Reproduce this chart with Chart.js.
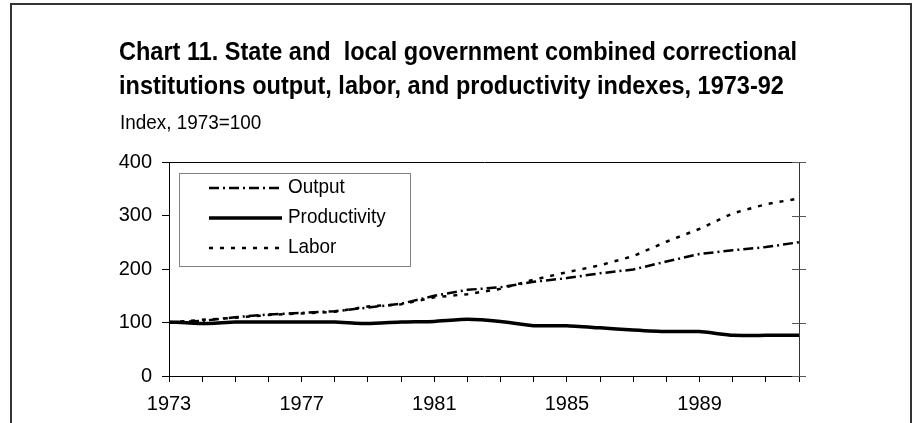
<!DOCTYPE html>
<html>
<head>
<meta charset="utf-8">
<script src="https://cdn.jsdelivr.net/npm/chart.js@4.4.0/dist/chart.umd.min.js"></script>
<style>
  html, body { margin: 0; padding: 0; background: #fff; }
  canvas { display: block; }
</style>
</head>
<body>
<canvas id="c" width="912" height="423"></canvas>
<script>
// ---- data ----
const years = ['1973','1974','1975','1976','1977','1978','1979','1980','1981','1982',
               '1983','1984','1985','1986','1987','1988','1989','1990','1991','1992'];
const outputIdx       = [100,103,110,115,118,121,128,135,150,161,166,176,183,192,199,214,228,235,241,250];
const productivityIdx = [101, 98,101,101,101,101, 98,101,102,106,102, 94, 94, 90, 86, 83, 83, 76, 76, 76];
const laborIdx        = [100,105,109,114,117,120,130,134,147,153,163,180,194,207,224,251,275,304,321,332];
const yTickValues = [0,100,200,300,400];
const xLabelYears = ['1973','1977','1981','1985','1989'];
const titleLines = ['Chart 11. State and  local government combined correctional',
                    'institutions output, labor, and productivity indexes, 1973-92'];
const subtitle = 'Index, 1973=100';

const FONT = "'Liberation Sans', Arial, sans-serif";

function condensedText(ctx, text, x, y, sx) {
  ctx.save();
  ctx.translate(x, y);
  ctx.scale(sx, 1);
  ctx.fillText(text, 0, 0);
  ctx.restore();
}

const decor = {
  id: 'decor',
  afterDraw(chart) {
    const ctx = chart.ctx;
    const ca = chart.chartArea;
    const ys = chart.scales.y;
    ctx.save();
    // outer frame
    ctx.strokeStyle = '#333';
    ctx.lineWidth = 2;
    ctx.strokeRect(11, 4, 900, 440);

    // title (bold, condensed)
    ctx.fillStyle = '#000';
    ctx.textBaseline = 'alphabetic';
    ctx.textAlign = 'left';
    ctx.font = "bold 25px " + FONT;
    const w = ctx.measureText(titleLines[0]).width;
    const sx = 678 / w;
    const baselines = [60, 94];
    titleLines.forEach((t, i) => condensedText(ctx, t, 119, baselines[i], sx));
    ctx.font = "21px " + FONT;
    condensedText(ctx, subtitle, 120, 129, 0.9);

    // right axis line with crossing ticks
    ctx.strokeStyle = '#333';
    ctx.lineWidth = 1;
    ctx.beginPath();
    ctx.moveTo(Math.round(ca.right) + 0.5, ca.top);
    ctx.lineTo(Math.round(ca.right) + 0.5, ca.bottom);
    ctx.stroke();
    ctx.strokeStyle = '#555';
    yTickValues.forEach(v => {
      const py = Math.round(ys.getPixelForValue(v)) + 0.5;
      ctx.beginPath();
      ctx.moveTo(ca.right - 7, py);
      ctx.lineTo(ca.right + 7, py);
      ctx.stroke();
    });

    // legend box inside plot
    ctx.strokeStyle = '#808080';
    ctx.lineWidth = 1;
    ctx.strokeRect(179.5, 173.5, 231, 93);
    const rows = [188, 218, 248];
    chart.data.datasets.forEach((ds, i) => {
      ctx.save();
      ctx.strokeStyle = ds.borderColor;
      ctx.lineWidth = ds.borderWidth;
      ctx.setLineDash(ds.borderDash || []);
      ctx.beginPath();
      ctx.moveTo(209, rows[i]);
      ctx.lineTo(282, rows[i]);
      ctx.stroke();
      ctx.restore();
      ctx.fillStyle = '#000';
      ctx.font = "21px " + FONT;
      ctx.textBaseline = 'middle';
      condensedText(ctx, ds.label, 288, rows[i] - 1, 0.9);
    });
    ctx.restore();
  }
};

new Chart(document.getElementById('c'), {
  type: 'line',
  data: {
    labels: years,
    datasets: [
      { label: 'Output', data: outputIdx, borderColor: '#000', borderWidth: 2.5,
        borderDash: [10, 4, 2, 4], pointRadius: 0, tension: 0, fill: false },
      { label: 'Productivity', data: productivityIdx, borderColor: '#000', borderWidth: 3.5,
        pointRadius: 0, tension: 0.15, fill: false },
      { label: 'Labor', data: laborIdx, borderColor: '#000', borderWidth: 2.5,
        borderDash: [4, 7], pointRadius: 0, tension: 0, fill: false }
    ]
  },
  options: {
    responsive: false,
    animation: false,
    devicePixelRatio: 1,
    layout: { padding: { left: 0, right: 113, top: 162, bottom: 0 } },
    plugins: { legend: { display: false }, tooltip: { enabled: false }, title: { display: false } },
    scales: {
      x: {
        type: 'category',
        offset: false,
        afterFit(scale) { scale.height = 47; },
        border: { color: '#000', width: 1 },
        grid: { drawOnChartArea: false, tickLength: 6, tickColor: '#000' },
        ticks: {
          autoSkip: false, maxRotation: 0, padding: 10, color: '#000',
          font: { family: FONT, size: 20 },
          callback(value) { const l = this.getLabelForValue(value); return xLabelYears.includes(l) ? l : ''; }
        }
      },
      y: {
        min: 0, max: 400,
        afterFit(scale) { scale.width = 169; },
        border: { color: '#000', width: 1 },
        grid: {
          drawOnChartArea: true, tickLength: 7, tickColor: '#000',
          color: (c) => (c.tick && c.tick.value === 400) ? '#000' : 'rgba(0,0,0,0)'
        },
        ticks: { stepSize: 100, padding: 10, color: '#000', font: { family: FONT, size: 20 } }
      }
    }
  },
  plugins: [decor]
});
</script>
</body>
</html>
